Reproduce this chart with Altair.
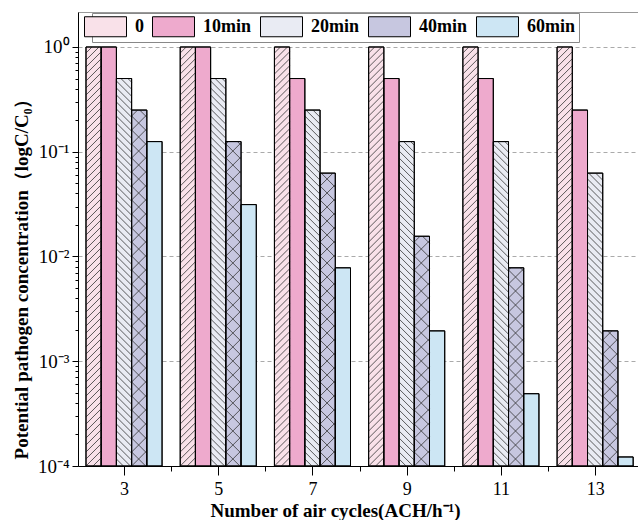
import math
import altair as alt
import pandas as pd

# ---------------- data ----------------
ach = [3, 5, 7, 9, 11, 13]
series = ["0", "10min", "20min", "40min", "60min"]
v_0 = [1, 1, 1, 1, 1, 1]
v_10 = [1, 1, 0.5, 0.5, 0.5, 0.25]
v_20 = [0.5, 0.5, 0.25, 0.125, 0.125, 0.0625]
v_40 = [0.25, 0.125, 0.0625, 0.0156, 0.0078, 0.00195]
v_60 = [0.125, 0.0313, 0.0078, 0.00195, 0.00049, 0.000122]
values = [v_0, v_10, v_20, v_40, v_60]
colors = ["#f9e1e9", "#eeaacd", "#e9ebf3", "#c7c7e0", "#cde6f4"]
hatch = ["fwd", None, "back", "cross", None]

# ---------------- layout ----------------
W, H = 560, 454
XMIN, XMAX = 2.023, 13.91
YMIN, YMAX = 1e-4, 10 ** 0.334
BAR = 0.323
FONT = "Liberation Serif"

rows = []
for si, s in enumerate(series):
    for gi, a in enumerate(ach):
        x0 = a + (si - 2.5) * BAR
        rows.append({"ach": a, "series": s, "value": values[si][gi],
                     "x0": x0, "x1": x0 + BAR, "hatch": hatch[si]})
bars = pd.DataFrame(rows)

# hatch lines (drawn through the same scales)
kx = W / (XMAX - XMIN)
ky = H / (math.log10(YMAX) - math.log10(YMIN))
lines = []
for r in rows:
    if r["hatch"] is None:
        continue
    w = BAR * kx
    ht = (math.log10(r["value"]) - math.log10(YMIN)) * ky
    kinds = ["fwd", "back"] if r["hatch"] == "cross" else [r["hatch"]]
    sp = 14 if r["hatch"] == "cross" else 7
    for kind in kinds:
        k0 = math.floor(-w / sp) - 1
        k1 = math.ceil((ht + w) / sp) + 1
        for k in range(k0, k1 + 1):
            c = k * sp
            if kind == "fwd":
                u0 = max(0.0, -c)
                u1 = min(w, ht - c)
                if u1 <= u0:
                    continue
                t0, t1 = u0 + c, u1 + c
            else:
                u0 = max(0.0, c - ht)
                u1 = min(w, c)
                if u1 <= u0:
                    continue
                t0, t1 = c - u0, c - u1
            lines.append({
                "lx0": r["x0"] + u0 / kx, "lx1": r["x0"] + u1 / kx,
                "ly0": 10 ** (math.log10(YMIN) + t0 / ky),
                "ly1": 10 ** (math.log10(YMIN) + t1 / ky),
            })
hatch_df = pd.DataFrame(lines)

yvals = [m * 10 ** e for e in range(-4, 0) for m in range(1, 10)] + [1]
xvals = list(range(3, 14))

is_pow = "abs(log(datum.value)/LN10 - round(log(datum.value)/LN10)) < 0.001"

xscale = alt.Scale(domain=[XMIN, XMAX], nice=False, zero=False)
yscale = alt.Scale(type="log", domain=[YMIN, YMAX], nice=False)

xaxis = alt.Axis(
    values=xvals,
    labelExpr="datum.value % 2 == 1 ? datum.label : ''",
    tickSize={"condition": {"test": "datum.value % 2 == 1", "value": 9}, "value": 5},
    grid=False,
    title="Number of air cycles(ACH/h⁻¹)",
    titleX=257,
    labelFontSize=18, labelPadding=5,
    titleFontSize=19, titlePadding=3,
)
yaxis = alt.Axis(
    values=yvals,
    labelExpr=f"{is_pow} ? ['10⁻⁴','10⁻³','10⁻²','10⁻¹','10⁰'][round(log(datum.value)/LN10)+4] : ''",
    tickSize={"condition": {"test": is_pow, "value": 6}, "value": 3},
    grid=True,
    gridDash=[4, 3],
    gridColor="#aaaaaa",
    gridOpacity={"condition": {"test": f"{is_pow} && datum.value > 0.0002", "value": 1}, "value": 0},
    title="Potential pathogen concentration（logC/C₀）",
    titleY=262,
    labelFontSize=19, labelPadding=3,
    titleFontSize=19, titlePadding=6,
)

base = alt.Chart(bars)
fill = base.mark_bar(stroke="black", strokeWidth=1).encode(
    x=alt.X("x0:Q", scale=xscale, axis=xaxis),
    x2="x1:Q",
    y=alt.Y("value:Q", scale=yscale, axis=yaxis),
    y2=alt.datum(YMIN),
    color=alt.Color(
        "series:N",
        scale=alt.Scale(domain=series, range=colors),
        sort=series,
        legend=alt.Legend(
            title=None, orient="none", legendX=14, legendY=1,
            direction="horizontal", columns=5,
            symbolType="M-2.1,-1H2.1V1H-2.1Z", symbolSize=400,
            symbolStrokeColor="black", symbolStrokeWidth=1, symbolOpacity=1,
            labelFont=FONT, labelFontSize=18, labelFontWeight="bold",
            labelOffset=19, columnPadding=6,
            padding=3, strokeColor="#888888", fillColor="white",
        ),
    ),
)

hatch_layer = alt.Chart(hatch_df).mark_rule(color="#333333", strokeWidth=0.8).encode(
    x=alt.X("lx0:Q", scale=xscale),
    x2="lx1:Q",
    y=alt.Y("ly0:Q", scale=yscale),
    y2="ly1:Q",
)

outline = base.mark_bar(fillOpacity=0, stroke="black", strokeWidth=1).encode(
    x=alt.X("x0:Q", scale=xscale),
    x2="x1:Q",
    y=alt.Y("value:Q", scale=yscale),
    y2=alt.datum(YMIN),
)

chart = alt.layer(fill, hatch_layer, outline).properties(
    width=W, height=H,
    padding={"left": 78, "top": 12, "right": 0, "bottom": 54},
    autosize=alt.AutoSizeParams(type="none"),
).configure_view(
    stroke="#999999", strokeWidth=1
).configure_axis(
    labelFont=FONT, titleFont=FONT, titleFontWeight="bold",
    labelColor="black", titleColor="black",
    domainColor="black", tickColor="black", domainWidth=1, tickWidth=1,
)

chart.save("out.html", embed_options={"renderer": "svg", "actions": False})
